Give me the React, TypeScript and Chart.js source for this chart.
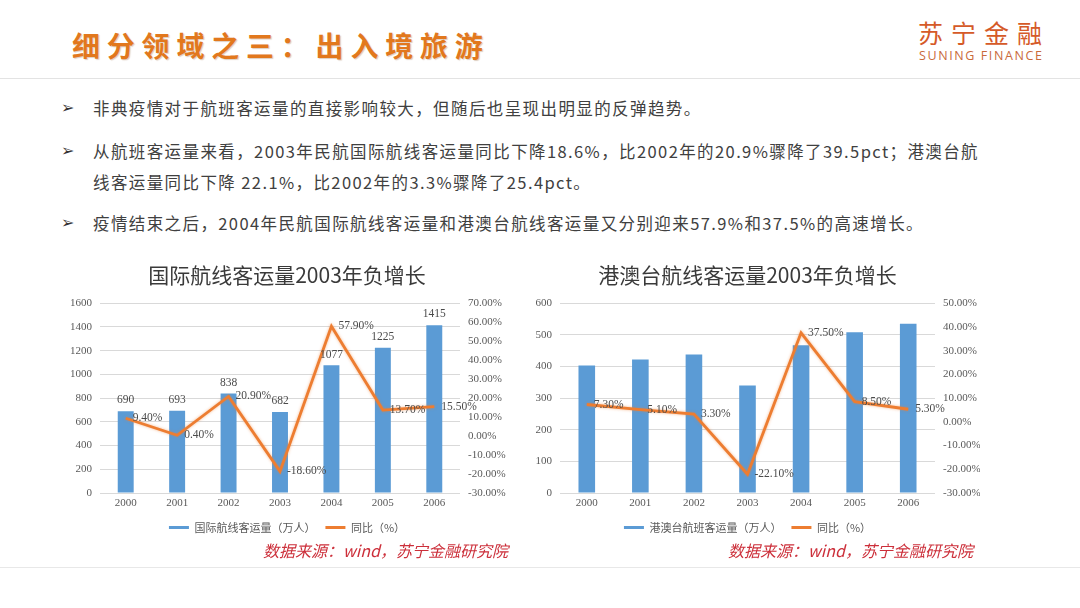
import React, { useEffect, useRef } from "react";
import { Chart, registerables } from "chart.js";

Chart.register(...registerables);

// ---------- data ----------
const years = ["2000", "2001", "2002", "2003", "2004", "2005", "2006"];
const intlPassengers = [690, 693, 838, 682, 1077, 1225, 1415];
const intlGrowth = [9.4, 0.4, 20.9, -18.6, 57.9, 13.7, 15.5];
const hmtPassengers = [403, 422, 438, 340, 467, 508, 535];
const hmtGrowth = [7.3, 5.1, 3.3, -22.1, 37.5, 8.5, 5.3];

const intlCountRange = [0, 1600, 200];
const intlPctRange = [-30, 70, 10];
const hmtCountRange = [0, 600, 100];
const hmtPctRange = [-30, 50, 10];

const intlTitle = "国际航线客运量2003年负增长";
const hmtTitle = "港澳台航线客运量2003年负增长";
const intlBarLabel = "国际航线客运量（万人）";
const hmtBarLabel = "港澳台航班客运量（万人）";
const growthLabel = "同比（%）";

const pageTitle = "细分领域之三：出入境旅游";
const bullets = [
  "非典疫情对于航班客运量的直接影响较大，但随后也呈现出明显的反弹趋势。",
  "从航班客运量来看，2003年民航国际航线客运量同比下降18.6%，比2002年的20.9%骤降了39.5pct；港澳台航",
  "线客运量同比下降 22.1%，比2002年的3.3%骤降了25.4pct。",
  "疫情结束之后，2004年民航国际航线客运量和港澳台航线客运量又分别迎来57.9%和37.5%的高速增长。",
];
const sourceText = "数据来源：wind，苏宁金融研究院";

const BAR_COLOR = "#5B9BD5";
const LINE_COLOR = "#ED7D31";
const CJK = "'Noto Sans CJK SC', 'Noto Sans', sans-serif";
const SERIF = "'Liberation Serif', 'DejaVu Serif', serif";

// ---------- plugins ----------
const valueLabels = {
  id: "valueLabels",
  afterDatasetsDraw(chart: any, _args: any, opts: any) {
    const ctx = chart.ctx;
    chart.data.datasets.forEach((ds: any, i: number) => {
      const meta = chart.getDatasetMeta(i);
      if (meta.hidden) return;
      ctx.save();
      ctx.font = `11.5px ${SERIF}`;
      ctx.fillStyle = "#4a4a4a";
      meta.data.forEach((el: any, j: number) => {
        const v = ds.data[j];
        if (meta.type === "bar") {
          if (!opts.bars) return;
          ctx.textAlign = "center";
          ctx.textBaseline = "bottom";
          ctx.fillText(String(v), el.x, el.y - 5);
        } else {
          ctx.textAlign = "left";
          ctx.textBaseline = "middle";
          ctx.fillText(Number(v).toFixed(2) + "%", el.x + 7, el.y);
        }
      });
      ctx.restore();
    });
  },
};

const lineGlow = {
  id: "lineGlow",
  beforeDatasetDraw(chart: any, args: any) {
    if (args.meta.type === "line") {
      chart.ctx.save();
      chart.ctx.shadowColor = "rgba(237,125,49,0.55)";
      chart.ctx.shadowBlur = 3;
    }
  },
  afterDatasetDraw(chart: any, args: any) {
    if (args.meta.type === "line") chart.ctx.restore();
  },
};

type ComboProps = {
  left: number;
  top: number;
  width: number;
  height: number;
  title: string;
  barLabel: string;
  bars: number[];
  growth: number[];
  countRange: number[];
  pctRange: number[];
  showBarValues: boolean;
  leftAxisWidth: number;
  rightAxisWidth: number;
};

function ComboChart(p: ComboProps) {
  const ref = useRef<HTMLCanvasElement | null>(null);
  useEffect(() => {
    if (!ref.current) return;
    const tickFont = { family: SERIF, size: 11 };
    const chart = new Chart(ref.current, {
      type: "bar",
      data: {
        labels: years,
        datasets: [
          {
            type: "bar",
            label: p.barLabel,
            data: p.bars,
            backgroundColor: BAR_COLOR,
            yAxisID: "y",
            order: 2,
            barPercentage: 0.62,
            categoryPercentage: 0.5,
          } as any,
          {
            type: "line",
            label: growthLabel,
            data: p.growth,
            borderColor: LINE_COLOR,
            backgroundColor: LINE_COLOR,
            borderWidth: 2.8,
            pointRadius: 0,
            tension: 0,
            yAxisID: "y1",
            order: 1,
          } as any,
        ],
      },
      options: {
        responsive: false,
        animation: false,
        layout: { padding: 0 },
        plugins: {
          title: {
            display: true,
            text: p.title,
            color: "#3a3a3a",
            font: { family: CJK, size: 21, weight: "normal" },
            padding: { top: 7, bottom: 16 },
          },
          legend: {
            display: true,
            position: "bottom",
            labels: {
              boxWidth: 20,
              boxHeight: 3,
              padding: 10,
              color: "#595959",
              font: { family: CJK, size: 11 },
              generateLabels: (c: any) =>
                c.data.datasets.map((ds: any, i: number) => ({
                  text: ds.label,
                  fillStyle: i === 0 ? BAR_COLOR : LINE_COLOR,
                  strokeStyle: i === 0 ? BAR_COLOR : LINE_COLOR,
                  lineWidth: 0,
                  hidden: false,
                  datasetIndex: i,
                  fontColor: "#595959",
                })),
            },
          },
          tooltip: { enabled: false },
          valueLabels: { bars: p.showBarValues },
        } as any,
        scales: {
          x: {
            grid: { display: false, drawTicks: false },
            border: { display: false },
            ticks: { color: "#595959", font: tickFont, padding: 4 },
            afterFit: (s: any) => {
              s.height = 19;
            },
          },
          y: {
            position: "left",
            min: p.countRange[0],
            max: p.countRange[1],
            ticks: {
              stepSize: p.countRange[2],
              color: "#595959",
              font: tickFont,
              padding: 8,
              callback: (v: any) => String(v),
            },
            grid: { color: "#D9D9D9", drawTicks: false },
            border: { display: false },
            afterFit: (s: any) => {
              s.width = p.leftAxisWidth;
            },
          },
          y1: {
            position: "right",
            min: p.pctRange[0],
            max: p.pctRange[1],
            ticks: {
              stepSize: p.pctRange[2],
              color: "#595959",
              font: tickFont,
              padding: 8,
              callback: (v: any) => Number(v).toFixed(2) + "%",
            },
            grid: { display: false, drawTicks: false },
            border: { display: false },
            afterFit: (s: any) => {
              s.width = p.rightAxisWidth;
            },
          },
        },
      } as any,
      plugins: [valueLabels, lineGlow],
    });
    return () => chart.destroy();
  }, []);
  return (
    <canvas
      ref={ref}
      width={p.width}
      height={p.height}
      style={{ position: "absolute", left: p.left, top: p.top, width: p.width, height: p.height }}
    />
  );
}

export default function App() {
  const bulletTops = [98, 141, 172, 213];
  return (
    <div
      style={{
        position: "absolute",
        left: 0,
        top: 0,
        width: 1080,
        height: 608,
        overflow: "hidden",
        background: "#ffffff",
        fontFamily: CJK,
      }}
    >
      {/* header */}
      <div
        style={{
          position: "absolute",
          left: 72,
          top: 29,
          fontSize: 28,
          lineHeight: "32px",
          fontWeight: 700,
          letterSpacing: 6.8,
          color: "#E2781D",
          whiteSpace: "nowrap",
          textShadow: "1px 1px 1px rgba(120,60,0,0.25)",
        }}
      >
        {pageTitle}
      </div>
      <div
        style={{
          position: "absolute",
          left: 918,
          top: 18,
          fontSize: 25,
          lineHeight: "28px",
          letterSpacing: 8,
          color: "#D55A28",
          whiteSpace: "nowrap",
        }}
      >
        苏宁金融
      </div>
      <div
        style={{
          position: "absolute",
          left: 919,
          top: 49,
          fontSize: 12.5,
          lineHeight: "14px",
          letterSpacing: 1.6,
          color: "#C96A3B",
          fontFamily: "'Open Sans', 'Noto Sans', sans-serif",
          whiteSpace: "nowrap",
        }}
      >
        SUNING FINANCE
      </div>
      <div style={{ position: "absolute", left: 0, top: 78, width: 1080, height: 1, background: "#E3E3E3" }} />

      {/* bullets */}
      {bullets.map((t, i) => (
        <React.Fragment key={i}>
          {i !== 2 && (
            <div
              style={{
                position: "absolute",
                left: 61,
                top: bulletTops[i],
                fontSize: 16,
                lineHeight: "20px",
                color: "#333333",
                fontFamily: "'DejaVu Sans', sans-serif",
              }}
            >
              ➢
            </div>
          )}
          <div
            style={{
              position: "absolute",
              left: 93,
              top: bulletTops[i],
              fontSize: 16.5,
              lineHeight: "20px",
              letterSpacing: 1.4,
              color: "#404040",
              whiteSpace: "nowrap",
            }}
          >
            {t}
          </div>
        </React.Fragment>
      ))}

      {/* charts */}
      <ComboChart
        left={50}
        top={255}
        width={474}
        height={288}
        title={intlTitle}
        barLabel={intlBarLabel}
        bars={intlPassengers}
        growth={intlGrowth}
        countRange={intlCountRange}
        pctRange={intlPctRange}
        showBarValues={true}
        leftAxisWidth={50}
        rightAxisWidth={64}
      />
      <ComboChart
        left={515}
        top={255}
        width={465}
        height={288}
        title={hmtTitle}
        barLabel={hmtBarLabel}
        bars={hmtPassengers}
        growth={hmtGrowth}
        countRange={hmtCountRange}
        pctRange={hmtPctRange}
        showBarValues={false}
        leftAxisWidth={45}
        rightAxisWidth={45}
      />

      {/* sources */}
      <div
        style={{
          position: "absolute",
          left: 263,
          top: 540,
          fontSize: 16,
          lineHeight: "20px",
          fontStyle: "italic",
          color: "#CC2F3A",
          whiteSpace: "nowrap",
        }}
      >
        {sourceText}
      </div>
      <div
        style={{
          position: "absolute",
          left: 728,
          top: 540,
          fontSize: 16,
          lineHeight: "20px",
          fontStyle: "italic",
          color: "#CC2F3A",
          whiteSpace: "nowrap",
        }}
      >
        {sourceText}
      </div>
      <div style={{ position: "absolute", left: 0, top: 567, width: 1080, height: 1, background: "#E8E8E8" }} />
    </div>
  );
}
